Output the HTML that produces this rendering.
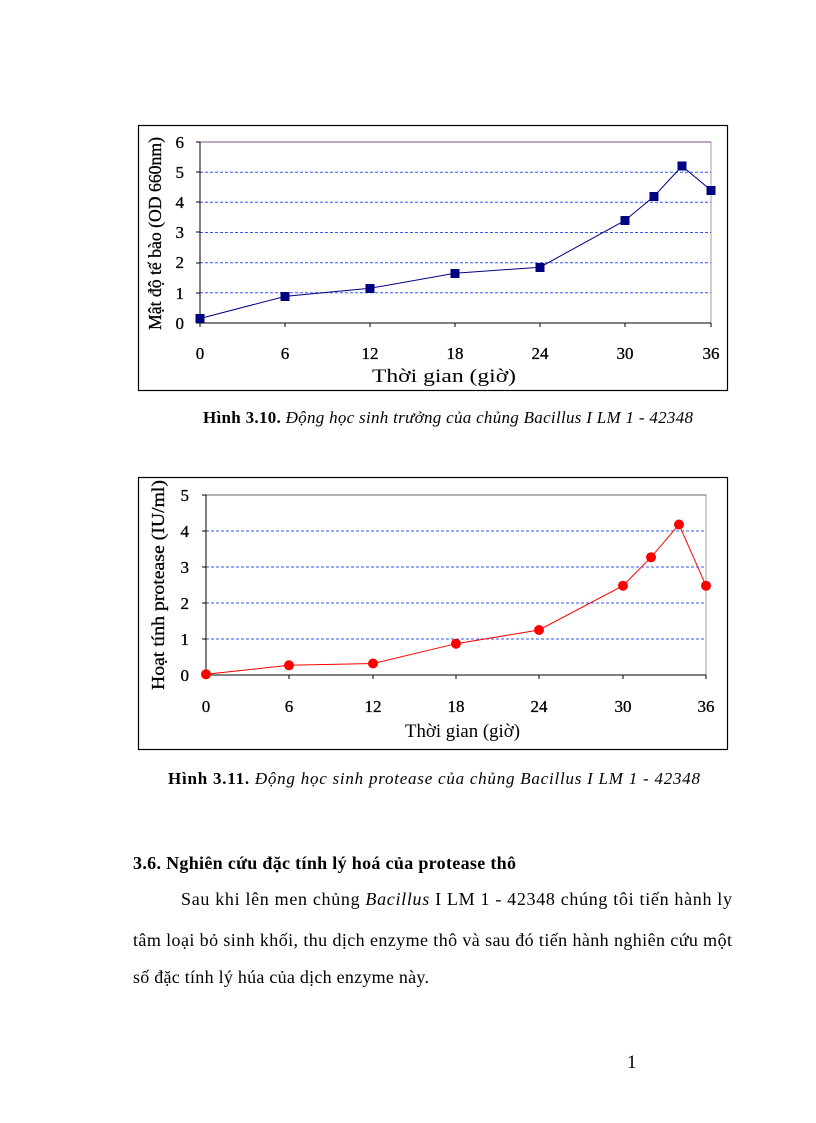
<!DOCTYPE html>
<html><head><meta charset="utf-8"><style>
body{margin:0;background:#fff;width:816px;height:1123px;position:relative;font-family:"Liberation Serif",serif;color:#000}
</style></head><body>
<svg width="816" height="1123" style="position:absolute;left:0;top:0" font-family="Liberation Serif, serif">
<!-- chart 1 -->
<rect x="138.5" y="125.5" width="589" height="265" fill="#fff" stroke="#000" stroke-width="1.2"/>
<rect x="200" y="142" width="511" height="181" fill="#fff" stroke="#a0a0a0" stroke-width="1"/>
<line x1="200" y1="142" x2="711" y2="142" stroke="#9a6fa0" stroke-width="1.2"/>
<g stroke="#3355ee" stroke-dasharray="3,2" stroke-width="1">
<line x1="200" y1="172.2" x2="711" y2="172.2"/><line x1="200" y1="202.3" x2="711" y2="202.3"/>
<line x1="200" y1="232.5" x2="711" y2="232.5"/><line x1="200" y1="262.7" x2="711" y2="262.7"/>
<line x1="200" y1="292.8" x2="711" y2="292.8"/></g>
<line x1="200" y1="142" x2="200" y2="327" stroke="#000"/>
<line x1="196" y1="323" x2="711" y2="323" stroke="#000"/>
<g stroke="#000"><line x1="285" y1="323" x2="285" y2="327"/><line x1="370" y1="323" x2="370" y2="327"/><line x1="455" y1="323" x2="455" y2="327"/><line x1="540" y1="323" x2="540" y2="327"/><line x1="625" y1="323" x2="625" y2="327"/><line x1="711" y1="323" x2="711" y2="327"/>
<line x1="196" y1="142" x2="200" y2="142"/><line x1="196" y1="172" x2="200" y2="172"/><line x1="196" y1="202" x2="200" y2="202"/><line x1="196" y1="232" x2="200" y2="232"/><line x1="196" y1="263" x2="200" y2="263"/><line x1="196" y1="293" x2="200" y2="293"/></g>
<g font-size="17" text-anchor="end" stroke="#000" stroke-width="0.3"><text x="184" y="148">6</text><text x="184" y="178">5</text><text x="184" y="208">4</text><text x="184" y="238">3</text><text x="184" y="268">2</text><text x="184" y="299">1</text><text x="184" y="329">0</text></g>
<g font-size="17" text-anchor="middle" stroke="#000" stroke-width="0.3"><text x="200" y="359">0</text><text x="285" y="359">6</text><text x="370" y="359">12</text><text x="455" y="359">18</text><text x="540" y="359">24</text><text x="625" y="359">30</text><text x="711" y="359">36</text></g>
<text x="372" y="382" font-size="19" textLength="144" lengthAdjust="spacingAndGlyphs">Thời gian (giờ)</text>
<text transform="translate(161,330) rotate(-90)" font-size="18" textLength="193" lengthAdjust="spacingAndGlyphs" stroke="#000" stroke-width="0.3">Mật độ tế bào (OD 660nm)</text>
<polyline fill="none" stroke="#000080" stroke-width="1" points="200,318.5 285,296.4 370,288.3 455,273.2 540,267.2 625,220.4 654,196.3 682,166.1 711,190.3"/>
<g fill="#000080"><rect x="195.5" y="314" width="9" height="9"/><rect x="280.5" y="292" width="9" height="9"/><rect x="365.5" y="284" width="9" height="9"/><rect x="450.5" y="269" width="9" height="9"/><rect x="535.5" y="263" width="9" height="9"/><rect x="620.5" y="216" width="9" height="9"/><rect x="649.5" y="192" width="9" height="9"/><rect x="677.5" y="161.5" width="9" height="9"/><rect x="706.5" y="186" width="9" height="9"/></g>
<!-- chart 2 -->
<rect x="138.5" y="477.5" width="589" height="272" fill="#fff" stroke="#000" stroke-width="1.2"/>
<rect x="206" y="495" width="500" height="180" fill="#fff" stroke="#a0a0a0" stroke-width="1"/>
<line x1="206" y1="495" x2="706" y2="495" stroke="#999" stroke-width="1.5"/>
<g stroke="#3355ee" stroke-dasharray="3,2" stroke-width="1">
<line x1="206" y1="531" x2="706" y2="531"/><line x1="206" y1="567" x2="706" y2="567"/><line x1="206" y1="603" x2="706" y2="603"/><line x1="206" y1="639" x2="706" y2="639"/></g>
<line x1="206" y1="495" x2="206" y2="679" stroke="#000"/>
<line x1="202" y1="675" x2="706" y2="675" stroke="#000"/>
<g stroke="#000"><line x1="289" y1="675" x2="289" y2="679"/><line x1="373" y1="675" x2="373" y2="679"/><line x1="456" y1="675" x2="456" y2="679"/><line x1="539" y1="675" x2="539" y2="679"/><line x1="623" y1="675" x2="623" y2="679"/><line x1="706" y1="675" x2="706" y2="679"/>
<line x1="202" y1="495" x2="206" y2="495"/><line x1="202" y1="531" x2="206" y2="531"/><line x1="202" y1="567" x2="206" y2="567"/><line x1="202" y1="603" x2="206" y2="603"/><line x1="202" y1="639" x2="206" y2="639"/></g>
<g font-size="17" text-anchor="end" stroke="#000" stroke-width="0.3"><text x="189" y="501">5</text><text x="189" y="537">4</text><text x="189" y="573">3</text><text x="189" y="609">2</text><text x="189" y="645">1</text><text x="189" y="681">0</text></g>
<g font-size="17" text-anchor="middle" stroke="#000" stroke-width="0.3"><text x="206" y="712">0</text><text x="289" y="712">6</text><text x="373" y="712">12</text><text x="456" y="712">18</text><text x="539" y="712">24</text><text x="623" y="712">30</text><text x="706" y="712">36</text></g>
<text x="405" y="737" font-size="19" textLength="115" lengthAdjust="spacingAndGlyphs">Thời gian (giờ)</text>
<text transform="translate(164,690) rotate(-90)" font-size="18" textLength="210" lengthAdjust="spacingAndGlyphs" stroke="#000" stroke-width="0.3">Hoạt tính protease (IU/ml)</text>
<polyline fill="none" stroke="#ff0000" stroke-width="1" points="206,674.3 289,665.3 373,663.5 456,643.7 539,630 623,585.7 651,557.3 679,524.5 706,585.7"/>
<g fill="#ff0000"><circle cx="206" cy="674.3" r="5"/><circle cx="289" cy="665.3" r="5"/><circle cx="373" cy="663.5" r="5"/><circle cx="456" cy="643.7" r="5"/><circle cx="539" cy="630" r="5"/><circle cx="623" cy="585.7" r="5"/><circle cx="651" cy="557.3" r="5"/><circle cx="679" cy="524.5" r="5"/><circle cx="706" cy="585.7" r="5"/></g>
<!-- text -->
<text x="203" y="423" font-size="17" textLength="490" lengthAdjust="spacing"><tspan font-weight="bold">Hình 3.10.</tspan> <tspan font-style="italic">Động học sinh trưởng của chủng Bacillus I LM 1 - 42348</tspan></text>
<text x="168" y="784" font-size="17" textLength="532" lengthAdjust="spacing"><tspan font-weight="bold">Hình  3.11.</tspan> <tspan font-style="italic">Động học sinh protease của chủng Bacillus I LM 1 - 42348</tspan></text>
<text x="133" y="869" font-size="18" font-weight="bold" textLength="383" lengthAdjust="spacing">3.6. Nghiên cứu đặc tính lý hoá của protease thô</text>
<text x="181" y="905" font-size="18" textLength="551" lengthAdjust="spacing">Sau khi lên men chủng <tspan font-style="italic">Bacillus</tspan> I LM 1 - 42348 chúng tôi tiến hành ly</text>
<text x="133" y="946" font-size="18" textLength="599" lengthAdjust="spacing">tâm loại bỏ sinh khối, thu dịch enzyme thô và sau đó tiến hành nghiên cứu một</text>
<text x="133" y="983" font-size="18" textLength="296" lengthAdjust="spacing">số đặc tính lý húa của dịch enzyme này.</text>
<text x="627" y="1068" font-size="19">1</text>
</svg>
</body></html>
